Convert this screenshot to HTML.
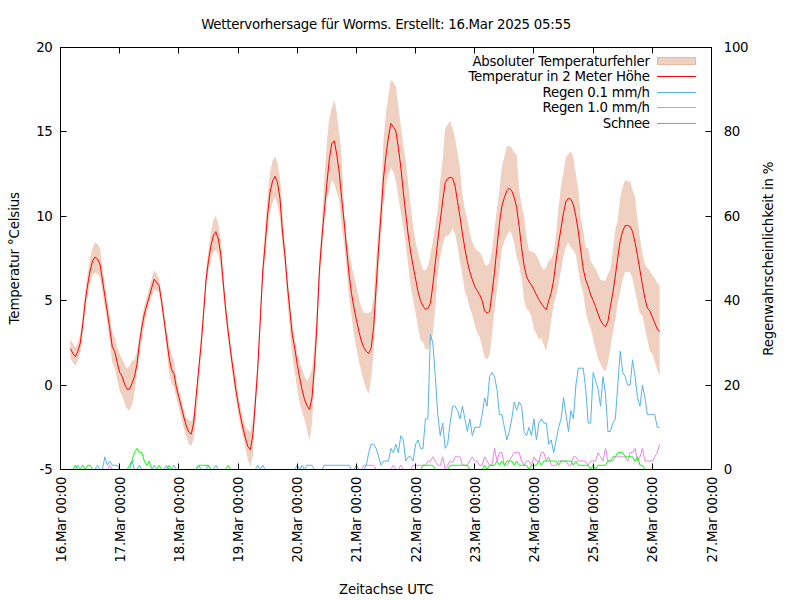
<!DOCTYPE html>
<html lang="de"><head><meta charset="utf-8"><title>Wettervorhersage für Worms</title>
<style>html,body{margin:0;padding:0;background:#fff}svg{display:block}text{font-family:'DejaVu Sans','Liberation Sans',sans-serif;font-size:13.33px;fill:#000}</style></head><body>
<svg width="800" height="600" viewBox="0 0 800 600">
<rect width="800" height="600" fill="#fff"/>
<text x="386.2" y="28.5" text-anchor="middle" textLength="370">Wettervorhersage für Worms. Erstellt: 16.Mar 2025 05:55</text>
<polygon points="70.36,339.00 72.83,343.50 75.30,347.50 77.76,343.00 80.23,334.00 82.69,315.00 85.16,292.00 87.62,274.00 90.09,258.00 92.56,247.50 95.02,242.50 97.49,244.00 99.95,248.00 102.42,266.00 104.89,284.00 107.35,300.00 109.82,316.00 112.28,332.50 114.75,338.00 117.22,347.00 119.68,354.00 122.15,359.00 124.61,364.00 127.08,368.30 129.55,366.00 132.01,360.80 134.48,360.00 136.94,351.70 139.41,336.70 141.88,318.00 144.34,306.00 146.81,297.00 149.27,288.00 151.74,278.50 154.20,270.00 156.67,274.00 159.14,278.00 161.60,294.00 164.07,312.00 166.53,329.00 169.00,344.00 171.47,355.00 173.93,360.00 176.40,379.00 178.86,389.00 181.33,399.00 183.80,409.00 186.26,418.00 188.73,419.50 191.19,422.00 193.66,415.00 196.12,395.00 198.59,369.00 201.06,335.00 203.52,304.41 205.99,271.22 208.45,249.74 210.92,232.00 213.39,220.00 215.85,215.80 218.32,224.00 220.78,240.00 223.25,272.00 225.72,301.00 228.18,322.99 230.65,342.61 233.11,361.00 235.58,372.00 238.05,394.00 240.51,407.00 242.98,418.00 245.44,426.70 247.91,430.00 250.38,431.70 252.84,420.00 255.31,391.00 257.77,358.00 260.24,310.00 262.70,262.00 265.17,228.00 267.64,194.00 270.10,171.70 272.57,161.00 275.03,156.30 277.50,163.00 279.97,177.50 282.43,212.00 284.90,243.00 287.36,274.00 289.83,300.00 292.30,322.00 294.76,338.00 297.23,352.00 299.69,361.50 302.16,369.00 304.62,376.50 307.09,381.00 309.56,376.50 312.02,369.00 314.49,345.00 316.95,305.00 319.42,260.00 321.89,222.00 324.35,180.00 326.82,143.00 329.28,118.00 331.75,108.00 334.22,99.20 336.68,111.50 339.15,133.00 341.61,155.00 344.08,211.51 346.55,238.00 349.01,251.86 351.48,264.45 353.94,276.30 356.41,286.70 358.88,298.00 361.34,307.18 363.81,313.00 366.27,312.95 368.74,312.78 371.20,311.51 373.67,297.52 376.14,259.02 378.60,227.10 381.07,195.20 383.53,140.00 386.00,113.00 388.47,95.00 390.93,80.00 393.40,82.50 395.86,86.50 398.33,106.00 400.80,126.00 403.26,145.00 405.73,160.00 408.19,183.18 410.66,206.34 413.12,226.48 415.59,242.01 418.06,253.00 420.52,261.70 422.99,270.16 425.45,270.35 427.92,266.34 430.39,254.38 432.85,241.43 435.32,225.28 437.78,208.79 440.25,181.02 442.72,158.00 445.18,128.50 447.65,124.80 450.11,120.80 452.58,129.00 455.05,138.00 457.51,153.00 459.98,168.00 462.44,194.93 464.91,209.81 467.38,220.00 469.84,232.80 472.31,242.04 474.77,247.47 477.24,250.73 479.70,252.29 482.17,256.26 484.64,264.40 487.10,265.68 489.57,262.85 492.03,251.07 494.50,229.21 496.97,208.32 499.43,190.01 501.90,166.00 504.36,157.00 506.83,146.00 509.30,146.00 511.76,148.00 514.23,152.50 516.69,154.50 519.16,190.00 521.62,205.00 524.09,216.70 526.56,238.00 529.02,250.64 531.49,251.69 533.95,252.40 536.42,255.07 538.89,260.50 541.35,266.21 543.82,270.00 546.28,267.12 548.75,260.30 551.22,259.00 553.68,252.69 556.15,233.41 558.61,206.80 561.08,186.00 563.55,172.00 566.01,157.00 568.48,154.00 570.94,151.20 573.41,158.00 575.88,174.00 578.34,190.00 580.81,217.69 583.27,230.78 585.74,248.30 588.20,247.50 590.67,261.66 593.14,265.00 595.60,269.21 598.07,274.37 600.53,280.00 603.00,280.58 605.47,280.80 607.93,274.00 610.40,269.03 612.86,250.42 615.33,229.22 617.80,220.00 620.26,197.00 622.73,187.00 625.19,180.00 627.66,181.20 630.12,181.20 632.59,190.00 635.06,197.00 637.52,220.00 639.99,238.57 642.45,253.30 644.92,264.00 647.39,268.00 649.85,271.00 652.32,275.00 654.78,278.00 657.25,283.00 659.72,285.60 659.72,376.00 657.25,370.00 654.78,362.00 652.32,354.00 649.85,351.00 647.39,340.00 644.92,328.00 642.45,316.00 639.99,313.78 637.52,303.08 635.06,291.38 632.59,278.44 630.12,272.53 627.66,271.84 625.19,271.99 622.73,278.65 620.26,292.16 617.80,302.18 615.33,320.00 612.86,333.00 610.40,348.00 607.93,363.00 605.47,371.50 603.00,369.00 600.53,364.00 598.07,358.00 595.60,349.00 593.14,339.00 590.67,328.00 588.20,322.00 585.74,312.00 583.27,293.30 580.81,285.00 578.34,271.03 575.88,254.79 573.41,249.91 570.94,248.29 568.48,242.59 566.01,246.20 563.55,255.96 561.08,270.01 558.61,283.64 556.15,295.90 553.68,304.00 551.22,320.00 548.75,338.00 546.28,351.00 543.82,345.00 541.35,338.50 538.89,339.50 536.42,334.00 533.95,329.00 531.49,317.00 529.02,311.00 526.56,309.00 524.09,300.00 521.62,278.05 519.16,265.20 516.69,257.68 514.23,243.07 511.76,233.82 509.30,230.98 506.83,235.42 504.36,240.89 501.90,249.42 499.43,270.77 496.97,289.98 494.50,310.00 492.03,335.00 489.57,355.00 487.10,359.80 484.64,357.00 482.17,347.00 479.70,337.00 477.24,333.00 474.77,325.00 472.31,315.00 469.84,308.30 467.38,298.00 464.91,291.70 462.44,275.00 459.98,262.01 457.51,246.68 455.05,234.10 452.58,228.36 450.11,233.16 447.65,235.67 445.18,236.53 442.72,243.90 440.25,256.75 437.78,273.63 435.32,307.00 432.85,334.00 430.39,343.00 427.92,349.50 425.45,349.00 422.99,342.00 420.52,340.00 418.06,327.00 415.59,313.00 413.12,300.00 410.66,286.70 408.19,265.00 405.73,243.64 403.26,226.95 400.80,212.07 398.33,196.70 395.86,181.11 393.40,172.00 390.93,168.37 388.47,174.21 386.00,185.78 383.53,204.25 381.07,233.05 378.60,269.74 376.14,308.31 373.67,352.00 371.20,378.00 368.74,394.00 366.27,389.00 363.81,381.00 361.34,372.00 358.88,361.00 356.41,348.00 353.94,335.00 351.48,315.00 349.01,296.53 346.55,266.89 344.08,244.54 341.61,224.54 339.15,200.00 336.68,192.00 334.22,183.50 331.75,180.04 329.28,191.90 326.82,199.02 324.35,223.25 321.89,255.09 319.42,285.02 316.95,343.00 314.49,380.00 312.02,423.00 309.56,441.00 307.09,429.00 304.62,420.00 302.16,412.00 299.69,403.00 297.23,389.00 294.76,372.00 292.30,355.74 289.83,329.53 287.36,300.00 284.90,267.00 282.43,245.00 279.97,218.00 277.50,205.00 275.03,197.50 272.57,202.00 270.10,213.00 267.64,232.00 265.17,260.00 262.70,282.00 260.24,330.00 257.77,378.00 255.31,415.00 252.84,455.00 250.38,466.70 247.91,460.00 245.44,448.00 242.98,436.70 240.51,426.00 238.05,412.00 235.58,397.00 233.11,379.00 230.65,360.61 228.18,340.86 225.72,319.00 223.25,294.00 220.78,268.00 218.32,254.00 215.85,250.00 213.39,252.00 210.92,260.00 208.45,271.19 205.99,288.73 203.52,323.63 201.06,355.00 198.59,390.00 196.12,416.00 193.66,439.00 191.19,446.00 188.73,444.00 186.26,436.00 183.80,428.00 181.33,418.00 178.86,408.00 176.40,398.00 173.93,388.00 171.47,383.00 169.00,372.00 166.53,347.00 164.07,328.00 161.60,309.00 159.14,292.50 156.67,291.00 154.20,290.00 151.74,296.50 149.27,305.00 146.81,313.00 144.34,325.00 141.88,341.70 139.41,356.70 136.94,375.00 134.48,391.70 132.01,405.00 129.55,410.00 127.08,409.00 124.61,403.00 122.15,396.00 119.68,390.80 117.22,380.00 114.75,368.00 112.28,362.00 109.82,343.00 107.35,324.00 104.89,308.00 102.42,292.00 99.95,277.00 97.49,274.00 95.02,272.50 92.56,275.00 90.09,284.00 87.62,296.00 85.16,312.00 82.69,335.00 80.23,353.00 77.76,361.00 75.30,365.80 72.83,362.50 70.36,358.30" fill="#f0d0c0" stroke="none"/>
<polyline points="70.36,348.70 72.83,353.30 75.30,356.70 77.76,351.70 80.23,343.30 82.69,325.00 85.16,302.00 87.62,285.00 90.09,271.00 92.56,261.00 95.02,257.00 97.49,259.00 99.95,264.00 102.42,280.00 104.89,296.00 107.35,312.00 109.82,329.00 112.28,346.70 114.75,351.70 117.22,362.50 119.68,372.50 122.15,376.70 124.61,384.20 127.08,389.20 129.55,389.20 132.01,383.30 134.48,376.70 136.94,364.20 139.41,343.00 141.88,327.00 144.34,314.00 146.81,305.00 149.27,296.70 151.74,287.50 154.20,279.20 156.67,282.50 159.14,285.80 161.60,301.70 164.07,320.00 166.53,338.00 169.00,357.00 171.47,369.50 173.93,373.50 176.40,387.50 178.86,397.00 181.33,407.00 183.80,417.00 186.26,426.00 188.73,432.00 191.19,434.20 193.66,423.00 196.12,396.00 198.59,370.00 201.06,345.00 203.52,314.18 205.99,280.29 208.45,260.71 210.92,246.00 213.39,235.80 215.85,231.70 218.32,239.00 220.78,254.00 223.25,283.00 225.72,310.00 228.18,331.93 230.65,351.61 233.11,370.00 235.58,388.00 238.05,403.00 240.51,416.70 242.98,428.00 245.44,438.00 247.91,446.70 250.38,449.70 252.84,435.00 255.31,403.00 257.77,368.00 260.24,320.00 262.70,272.00 265.17,244.00 267.64,214.00 270.10,192.00 272.57,181.00 275.03,176.30 277.50,182.50 279.97,198.30 282.43,231.00 284.90,255.00 287.36,285.00 289.83,310.00 292.30,335.00 294.76,348.00 297.23,364.50 299.69,378.00 302.16,390.00 304.62,399.80 307.09,405.80 309.56,409.50 312.02,397.50 314.49,366.00 316.95,324.20 319.42,270.01 321.89,238.00 324.35,210.95 326.82,184.28 329.28,159.61 331.75,143.50 334.22,140.80 336.68,154.00 339.15,172.00 341.61,197.56 344.08,221.23 346.55,247.87 349.01,274.05 351.48,293.42 353.94,307.42 356.41,320.00 358.88,331.27 361.34,341.00 363.81,347.50 366.27,351.50 368.74,353.50 371.20,348.00 373.67,326.76 376.14,287.16 378.60,248.00 381.07,213.36 383.53,178.00 386.00,155.00 388.47,137.00 390.93,123.36 393.40,127.00 395.86,131.00 398.33,147.89 400.80,167.00 403.26,191.70 405.73,213.30 408.19,235.00 410.66,252.00 413.12,265.90 415.59,279.06 418.06,291.70 420.52,300.78 422.99,306.00 425.45,309.30 427.92,308.50 430.39,303.50 432.85,285.00 435.32,263.00 437.78,240.94 440.25,220.65 442.72,200.93 445.18,182.64 447.65,178.68 450.11,177.26 452.58,178.21 455.05,185.82 457.51,201.50 459.98,216.70 462.44,233.54 464.91,248.90 467.38,261.76 469.84,271.70 472.31,279.53 474.77,286.70 477.24,290.70 479.70,294.75 482.17,300.76 484.64,311.00 487.10,313.00 489.57,311.50 492.03,292.89 494.50,272.31 496.97,246.85 499.43,223.77 501.90,206.02 504.36,197.54 506.83,190.75 509.30,188.00 511.76,190.81 514.23,197.27 516.69,207.74 519.16,226.63 521.62,247.71 524.09,265.55 526.56,276.39 529.02,281.70 531.49,285.00 533.95,289.68 536.42,294.81 538.89,299.60 541.35,303.50 543.82,307.00 546.28,309.80 548.75,300.50 551.22,292.71 553.68,279.88 556.15,260.19 558.61,243.16 561.08,228.00 563.55,212.58 566.01,201.23 568.48,198.11 570.94,199.40 573.41,204.75 575.88,216.60 578.34,231.25 580.81,250.92 583.27,269.08 585.74,280.00 588.20,286.23 590.67,295.00 593.14,300.38 595.60,306.78 598.07,313.88 600.53,320.50 603.00,324.50 605.47,326.80 607.93,321.50 610.40,306.58 612.86,292.68 615.33,275.85 617.80,257.17 620.26,240.75 622.73,230.92 625.19,225.50 627.66,225.53 630.12,226.44 632.59,231.58 635.06,242.44 637.52,255.74 639.99,270.56 642.45,284.78 644.92,298.20 647.39,308.00 649.85,311.00 652.32,317.00 654.78,323.00 657.25,329.00 659.72,331.60" fill="none" stroke="#ff0000" stroke-width="1"/>
<polyline points="70.36,469.50 72.83,469.50 75.30,469.50 77.76,465.28 80.23,469.50 82.69,469.50 85.16,469.50 87.62,469.50 90.09,469.50 92.56,469.50 95.02,469.50 97.49,465.28 99.95,469.50 102.42,469.50 104.89,456.84 107.35,465.28 109.82,461.06 112.28,465.28 114.75,465.28 117.22,465.28 119.68,469.50 122.15,469.50 124.61,469.50 127.08,469.50 129.55,469.50 132.01,461.06 134.48,469.50 136.94,469.50 139.41,465.28 141.88,469.50 144.34,469.50 146.81,469.50 149.27,469.50 151.74,469.50 154.20,465.28 156.67,469.50 159.14,469.50 161.60,469.50 164.07,469.50 166.53,465.28 169.00,469.50 171.47,469.50 173.93,465.28 176.40,469.50 178.86,469.50 181.33,469.50 183.80,469.50 186.26,469.50 188.73,469.50 191.19,469.50 193.66,469.50 196.12,469.50 198.59,465.28 201.06,469.50 203.52,469.50 205.99,469.50 208.45,465.28 210.92,469.50 213.39,469.50 215.85,465.28 218.32,469.50 220.78,469.50 223.25,469.50 225.72,469.50 228.18,469.50 230.65,469.50 233.11,469.50 235.58,469.50 238.05,469.50 240.51,469.50 242.98,469.50 245.44,469.50 247.91,469.50 250.38,469.50 252.84,469.50 255.31,469.50 257.77,465.28 260.24,469.50 262.70,465.28 265.17,469.50 267.64,469.50 270.10,469.50 272.57,469.50 275.03,469.50 277.50,469.50 279.97,469.50 282.43,469.50 284.90,469.50 287.36,469.50 289.83,469.50 292.30,469.50 294.76,469.50 297.23,465.28 299.69,469.50 302.16,465.28 304.62,469.50 307.09,465.28 309.56,465.28 312.02,465.28 314.49,469.50 316.95,469.50 319.42,469.50 321.89,469.50 324.35,465.28 326.82,465.28 329.28,465.28 331.75,465.28 334.22,465.28 336.68,465.28 339.15,465.28 341.61,465.28 344.08,465.28 346.55,465.28 349.01,465.28 351.48,469.50 353.94,469.50 356.41,465.28 358.88,469.50 361.34,469.50 363.81,469.50 366.27,465.28 368.74,452.62 371.20,444.18 373.67,444.18 376.14,448.40 378.60,456.84 381.07,465.28 383.53,461.06 386.00,461.06 388.47,461.06 390.93,448.40 393.40,452.62 395.86,444.18 398.33,452.62 400.80,435.74 403.26,439.96 405.73,461.06 408.19,456.84 410.66,456.84 413.12,461.06 415.59,444.18 418.06,439.96 420.52,448.40 422.99,448.40 425.45,418.86 427.92,418.86 430.39,334.46 432.85,342.90 435.32,376.66 437.78,414.64 440.25,435.74 442.72,423.08 445.18,448.40 447.65,444.18 450.11,423.08 452.58,406.20 455.05,406.20 457.51,410.42 459.98,418.86 462.44,406.20 464.91,418.86 467.38,431.52 469.84,418.86 472.31,435.74 474.77,427.30 477.24,427.30 479.70,427.30 482.17,414.64 484.64,397.76 487.10,406.20 489.57,376.66 492.03,372.44 494.50,376.66 496.97,389.32 499.43,414.64 501.90,414.64 504.36,427.30 506.83,439.96 509.30,431.52 511.76,418.86 514.23,401.98 516.69,410.42 519.16,401.98 521.62,406.20 524.09,431.52 526.56,435.74 529.02,427.30 531.49,435.74 533.95,418.86 536.42,439.96 538.89,423.08 541.35,418.86 543.82,423.08 546.28,423.08 548.75,444.18 551.22,439.96 553.68,452.62 556.15,439.96 558.61,427.30 561.08,418.86 563.55,397.76 566.01,414.64 568.48,431.52 570.94,410.42 573.41,418.86 575.88,385.10 578.34,368.22 580.81,368.22 583.27,368.22 585.74,389.32 588.20,423.08 590.67,423.08 593.14,372.44 595.60,380.88 598.07,389.32 600.53,406.20 603.00,376.66 605.47,393.54 607.93,431.52 610.40,431.52 612.86,423.08 615.33,418.86 617.80,385.10 620.26,351.34 622.73,372.44 625.19,376.66 627.66,385.10 630.12,385.10 632.59,359.78 635.06,376.66 637.52,397.76 639.99,406.20 642.45,385.10 644.92,397.76 647.39,414.64 649.85,414.64 652.32,414.64 654.78,414.64 657.25,427.30 659.72,427.30" fill="none" stroke="#56b4e9" stroke-width="1"/>
<polyline points="70.36,469.50 72.83,469.50 75.30,469.50 77.76,469.50 80.23,469.50 82.69,469.50 85.16,469.50 87.62,469.50 90.09,469.50 92.56,469.50 95.02,469.50 97.49,469.50 99.95,469.50 102.42,469.50 104.89,469.50 107.35,469.50 109.82,465.28 112.28,469.50 114.75,469.50 117.22,469.50 119.68,469.50 122.15,469.50 124.61,469.50 127.08,469.50 129.55,469.50 132.01,469.50 134.48,469.50 136.94,469.50 139.41,469.50 141.88,469.50 144.34,469.50 146.81,469.50 149.27,469.50 151.74,469.50 154.20,469.50 156.67,469.50 159.14,469.50 161.60,469.50 164.07,469.50 166.53,469.50 169.00,469.50 171.47,469.50 173.93,469.50 176.40,469.50 178.86,469.50 181.33,469.50 183.80,469.50 186.26,469.50 188.73,469.50 191.19,469.50 193.66,469.50 196.12,469.50 198.59,469.50 201.06,469.50 203.52,469.50 205.99,469.50 208.45,469.50 210.92,469.50 213.39,469.50 215.85,469.50 218.32,469.50 220.78,469.50 223.25,469.50 225.72,469.50 228.18,469.50 230.65,469.50 233.11,469.50 235.58,469.50 238.05,469.50 240.51,469.50 242.98,469.50 245.44,469.50 247.91,469.50 250.38,469.50 252.84,469.50 255.31,469.50 257.77,469.50 260.24,469.50 262.70,469.50 265.17,469.50 267.64,469.50 270.10,469.50 272.57,469.50 275.03,469.50 277.50,469.50 279.97,469.50 282.43,469.50 284.90,469.50 287.36,469.50 289.83,469.50 292.30,469.50 294.76,469.50 297.23,469.50 299.69,469.50 302.16,469.50 304.62,469.50 307.09,469.50 309.56,469.50 312.02,469.50 314.49,469.50 316.95,469.50 319.42,469.50 321.89,469.50 324.35,469.50 326.82,469.50 329.28,469.50 331.75,469.50 334.22,469.50 336.68,469.50 339.15,469.50 341.61,469.50 344.08,469.50 346.55,469.50 349.01,469.50 351.48,469.50 353.94,469.50 356.41,469.50 358.88,469.50 361.34,469.50 363.81,465.28 366.27,465.28 368.74,465.28 371.20,465.28 373.67,465.28 376.14,469.50 378.60,469.50 381.07,469.50 383.53,469.50 386.00,469.50 388.47,469.50 390.93,469.50 393.40,465.28 395.86,469.50 398.33,469.50 400.80,465.28 403.26,469.50 405.73,469.50 408.19,469.50 410.66,469.50 413.12,465.28 415.59,465.28 418.06,465.28 420.52,465.28 422.99,465.28 425.45,465.28 427.92,461.06 430.39,461.06 432.85,456.84 435.32,461.06 437.78,465.28 440.25,465.28 442.72,456.84 445.18,469.50 447.65,465.28 450.11,461.06 452.58,462.75 455.05,456.84 457.51,456.84 459.98,456.84 462.44,465.28 464.91,465.28 467.38,465.28 469.84,461.06 472.31,456.84 474.77,461.06 477.24,461.06 479.70,465.28 482.17,465.28 484.64,456.84 487.10,461.06 489.57,465.28 492.03,465.28 494.50,448.40 496.97,461.06 499.43,452.62 501.90,452.62 504.36,465.28 506.83,465.28 509.30,461.06 511.76,456.84 514.23,452.62 516.69,452.62 519.16,452.62 521.62,461.06 524.09,465.28 526.56,461.06 529.02,461.06 531.49,465.28 533.95,456.84 536.42,461.06 538.89,461.06 541.35,452.62 543.82,452.62 546.28,461.06 548.75,456.84 551.22,465.28 553.68,465.28 556.15,465.28 558.61,461.06 561.08,461.06 563.55,461.06 566.01,461.06 568.48,465.28 570.94,465.28 573.41,456.84 575.88,456.84 578.34,461.06 580.81,461.06 583.27,461.06 585.74,461.06 588.20,465.28 590.67,461.06 593.14,461.06 595.60,461.06 598.07,452.62 600.53,456.84 603.00,461.06 605.47,448.40 607.93,461.06 610.40,461.06 612.86,461.06 615.33,456.84 617.80,456.84 620.26,456.84 622.73,456.84 625.19,456.84 627.66,461.06 630.12,452.62 632.59,452.62 635.06,448.40 637.52,461.06 639.99,456.84 642.45,448.40 644.92,461.06 647.39,461.06 649.85,461.06 652.32,461.06 654.78,456.84 657.25,452.62 659.72,444.18" fill="none" stroke="#ee82ee" stroke-width="1"/>
<polyline points="70.36,469.50 72.83,469.50 75.30,465.28 77.76,469.50 80.23,469.50 82.69,465.28 85.16,469.50 87.62,465.28 90.09,465.28 92.56,469.50 95.02,469.50 97.49,469.50 99.95,469.50 102.42,469.50 104.89,469.50 107.35,469.50 109.82,469.50 112.28,469.50 114.75,469.50 117.22,469.50 119.68,469.50 122.15,469.50 124.61,469.50 127.08,469.50 129.55,465.28 132.01,461.06 134.48,452.62 136.94,448.40 139.41,452.62 141.88,452.62 144.34,461.06 146.81,465.28 149.27,461.06 151.74,469.50 154.20,469.50 156.67,469.50 159.14,465.28 161.60,469.50 164.07,469.50 166.53,469.50 169.00,465.28 171.47,469.50 173.93,469.50 176.40,469.50 178.86,469.50 181.33,469.50 183.80,469.50 186.26,469.50 188.73,469.50 191.19,469.50 193.66,469.50 196.12,469.50 198.59,465.28 201.06,465.28 203.52,465.28 205.99,465.28 208.45,465.28 210.92,469.50 213.39,469.50 215.85,469.50 218.32,469.50 220.78,469.50 223.25,469.50 225.72,469.50 228.18,465.28 230.65,469.50 233.11,469.50 235.58,469.50 238.05,469.50 240.51,469.50 242.98,469.50 245.44,469.50 247.91,469.50 250.38,469.50 252.84,469.50 255.31,469.50 257.77,469.50 260.24,469.50 262.70,469.50 265.17,469.50 267.64,469.50 270.10,469.50 272.57,469.50 275.03,469.50 277.50,469.50 279.97,469.50 282.43,469.50 284.90,469.50 287.36,469.50 289.83,469.50 292.30,469.50 294.76,469.50 297.23,469.50 299.69,469.50 302.16,469.50 304.62,469.50 307.09,469.50 309.56,469.50 312.02,469.50 314.49,469.50 316.95,469.50 319.42,469.50 321.89,469.50 324.35,469.50 326.82,469.50 329.28,469.50 331.75,469.50 334.22,469.50 336.68,469.50 339.15,469.50 341.61,469.50 344.08,469.50 346.55,469.50 349.01,469.50 351.48,469.50 353.94,469.50 356.41,469.50 358.88,469.50 361.34,469.50 363.81,469.50 366.27,469.50 368.74,469.50 371.20,469.50 373.67,469.50 376.14,469.50 378.60,469.50 381.07,469.50 383.53,469.50 386.00,469.50 388.47,469.50 390.93,469.50 393.40,469.50 395.86,469.50 398.33,469.50 400.80,469.50 403.26,469.50 405.73,469.50 408.19,469.50 410.66,469.50 413.12,469.50 415.59,469.50 418.06,469.50 420.52,469.50 422.99,465.28 425.45,465.28 427.92,465.28 430.39,465.28 432.85,465.28 435.32,469.50 437.78,469.50 440.25,469.50 442.72,469.50 445.18,469.50 447.65,469.50 450.11,465.28 452.58,465.28 455.05,465.28 457.51,465.28 459.98,465.28 462.44,465.28 464.91,465.28 467.38,465.28 469.84,469.50 472.31,469.50 474.77,469.50 477.24,469.50 479.70,469.50 482.17,469.50 484.64,465.28 487.10,469.50 489.57,465.28 492.03,465.28 494.50,465.28 496.97,461.06 499.43,465.28 501.90,461.06 504.36,465.28 506.83,461.06 509.30,461.06 511.76,461.06 514.23,465.28 516.69,461.06 519.16,465.28 521.62,465.28 524.09,465.28 526.56,465.28 529.02,469.50 531.49,465.28 533.95,465.28 536.42,465.28 538.89,461.06 541.35,465.28 543.82,461.06 546.28,461.06 548.75,461.06 551.22,461.06 553.68,461.06 556.15,461.06 558.61,465.28 561.08,461.06 563.55,461.06 566.01,461.06 568.48,461.06 570.94,461.06 573.41,465.28 575.88,461.06 578.34,465.28 580.81,465.28 583.27,465.28 585.74,465.28 588.20,465.28 590.67,469.50 593.14,465.28 595.60,469.50 598.07,465.28 600.53,465.28 603.00,465.28 605.47,465.28 607.93,461.06 610.40,461.06 612.86,456.84 615.33,456.84 617.80,452.62 620.26,452.62 622.73,452.62 625.19,456.84 627.66,456.84 630.12,456.84 632.59,456.84 635.06,461.06 637.52,456.84 639.99,465.28 642.45,465.28 644.92,469.50 647.39,469.50 649.85,469.50 652.32,469.50 654.78,469.50 657.25,469.50 659.72,469.50" fill="none" stroke="#00ff00" stroke-width="1"/>
<path d="M60.50,469.50h6M711.50,469.50h-6M60.50,385.50h6M711.50,385.50h-6M60.50,300.50h6M711.50,300.50h-6M60.50,216.50h6M711.50,216.50h-6M60.50,131.50h6M711.50,131.50h-6M60.50,47.50h6M711.50,47.50h-6M60.50,469.50v-6M60.50,47.50v6M119.50,469.50v-6M119.50,47.50v6M178.50,469.50v-6M178.50,47.50v6M238.50,469.50v-6M238.50,47.50v6M297.50,469.50v-6M297.50,47.50v6M356.50,469.50v-6M356.50,47.50v6M415.50,469.50v-6M415.50,47.50v6M474.50,469.50v-6M474.50,47.50v6M533.50,469.50v-6M533.50,47.50v6M593.50,469.50v-6M593.50,47.50v6M652.50,469.50v-6M652.50,47.50v6M711.50,469.50v-6M711.50,47.50v6" stroke="#000" stroke-width="1" fill="none"/>
<rect x="60.5" y="47.5" width="651.0" height="422.0" fill="none" stroke="#000" stroke-width="1"/>
<text x="52.8" y="474.0" text-anchor="end">-5</text>
<text x="52.8" y="390.0" text-anchor="end">0</text>
<text x="52.8" y="305.0" text-anchor="end">5</text>
<text x="52.8" y="221.0" text-anchor="end" textLength="16.50">10</text>
<text x="52.8" y="136.0" text-anchor="end" textLength="16.50">15</text>
<text x="52.8" y="52.0" text-anchor="end" textLength="16.50">20</text>
<text x="723.8" y="474.0">0</text>
<text x="723.8" y="390.0" textLength="16.50">20</text>
<text x="723.8" y="305.0" textLength="16.50">40</text>
<text x="723.8" y="221.0" textLength="16.50">60</text>
<text x="723.8" y="136.0" textLength="16.50">80</text>
<text x="723.8" y="52.0" textLength="24.75">100</text>
<text transform="translate(65.5,476.5) rotate(-90)" text-anchor="end" textLength="86">16.Mar 00:00</text>
<text transform="translate(124.7,476.5) rotate(-90)" text-anchor="end" textLength="86">17.Mar 00:00</text>
<text transform="translate(183.9,476.5) rotate(-90)" text-anchor="end" textLength="86">18.Mar 00:00</text>
<text transform="translate(243.0,476.5) rotate(-90)" text-anchor="end" textLength="86">19.Mar 00:00</text>
<text transform="translate(302.2,476.5) rotate(-90)" text-anchor="end" textLength="86">20.Mar 00:00</text>
<text transform="translate(361.4,476.5) rotate(-90)" text-anchor="end" textLength="86">21.Mar 00:00</text>
<text transform="translate(420.6,476.5) rotate(-90)" text-anchor="end" textLength="86">22.Mar 00:00</text>
<text transform="translate(479.8,476.5) rotate(-90)" text-anchor="end" textLength="86">23.Mar 00:00</text>
<text transform="translate(539.0,476.5) rotate(-90)" text-anchor="end" textLength="86">24.Mar 00:00</text>
<text transform="translate(598.1,476.5) rotate(-90)" text-anchor="end" textLength="86">25.Mar 00:00</text>
<text transform="translate(657.3,476.5) rotate(-90)" text-anchor="end" textLength="86">26.Mar 00:00</text>
<text transform="translate(716.5,476.5) rotate(-90)" text-anchor="end" textLength="86">27.Mar 00:00</text>
<text transform="translate(19.2,258.2) rotate(-90)" text-anchor="middle" textLength="132.5">Temperatur °Celsius</text>
<text transform="translate(773,258.7) rotate(-90)" text-anchor="middle" textLength="194.3">Regenwahrscheinlichkeit in %</text>
<text x="386.2" y="594" text-anchor="middle" textLength="94.5">Zeitachse UTC</text>
<text x="650" y="65.5" text-anchor="end" textLength="177.6">Absoluter Temperaturfehler</text>
<text x="650" y="81.0" text-anchor="end" textLength="181.6">Temperatur in 2 Meter Höhe</text>
<text x="650" y="96.6" text-anchor="end" textLength="107.5">Regen 0.1 mm/h</text>
<text x="650" y="112.1" text-anchor="end" textLength="107.5">Regen 1.0 mm/h</text>
<text x="650" y="127.5" text-anchor="end" textLength="47.2">Schnee</text>
<rect x="657.5" y="57.5" width="38" height="7" fill="#f0d0c0" stroke="#e8b8a0" stroke-width="1"/>
<path d="M657,76.5h39" stroke="#ff0000" stroke-width="1" fill="none"/>
<path d="M657,92.5h39" stroke="#56b4e9" stroke-width="1" fill="none"/>
<path d="M657,107.5h39" stroke="#ee82ee" stroke-width="1" fill="none"/>
<path d="M657,123.5h39" stroke="#00ff00" stroke-width="1" fill="none"/>
</svg></body></html>
